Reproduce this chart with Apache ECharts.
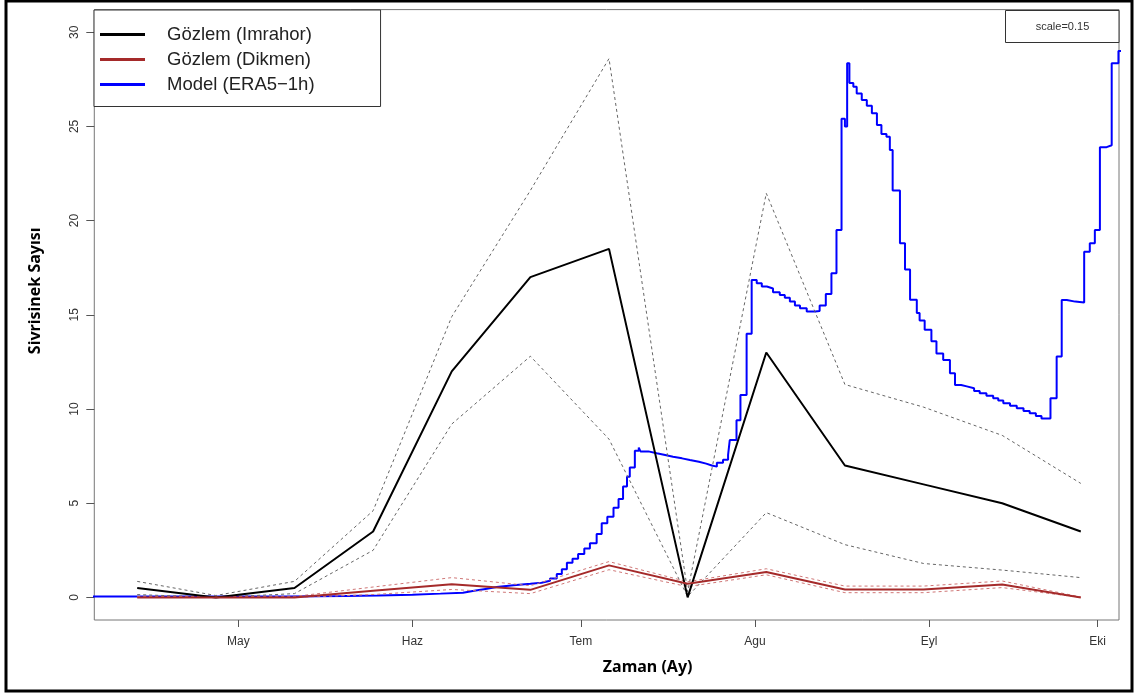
<!DOCTYPE html>
<html>
<head>
<meta charset="utf-8">
<script src="https://cdn.jsdelivr.net/npm/echarts@6/dist/echarts.min.js"></script>
<style>
html,body{margin:0;padding:0;background:#fff;}
#c{width:1134px;height:695px;}
</style>
</head>
<body>
<div id="c"></div>
<script>
// ---- data (x = day of year) ----
const tickDays = [121, 152, 182, 213, 244, 274];
const tickLabels = ['May', 'Haz', 'Tem', 'Agu', 'Eyl', 'Eki'];
const yTicks = [0, 5, 10, 15, 20, 25, 30];

const obsDays = [103, 117, 131, 145, 159, 173, 187, 201, 215, 229, 243, 257, 271];
const imrahor   = [0.5, 0, 0.5, 3.5, 12, 17, 18.5, 0, 13, 7, 6, 5, 3.5];
const imrahorHi = [0.85, 0.1, 0.85, 4.6, 14.9, 21.6, 28.6, 0.3, 21.45, 11.3, 10.1, 8.6, 6.05];
const imrahorLo = [0.15, 0, 0.2, 2.5, 9.2, 12.8, 8.4, 0.05, 4.5, 2.8, 1.8, 1.45, 1.05];
const dikmen    = [0, 0, 0, 0.35, 0.7, 0.4, 1.7, 0.72, 1.35, 0.42, 0.42, 0.68, 0];
const dikmenHi  = [0.05, 0.05, 0.05, 0.55, 1.05, 0.62, 1.9, 0.83, 1.52, 0.6, 0.6, 0.87, 0.02];
const dikmenLo  = [0, 0, 0, 0.15, 0.42, 0.2, 1.47, 0.57, 1.2, 0.25, 0.25, 0.52, 0];

const modelDays = [94,130,140,146,152,157,161,163,165,167,170,173,175,176.5,177.7,178.6,179.5,180.5,181.5,182.6,183.6,184.8,185.7,186.7,187.8,188.7,189.5,190.2,190.7,191.6,192.3,192.6,194,195.5,197,198.4,200,201.4,203,204.3,205.3,206.2,207.3,208.2,208.5,209.7,210.4,211.5,212.4,213.3,214.2,215.1,216.2,217.4,218.3,219.2,220.1,221.0,222.2,223.7,224.5,225.6,226.6,227.5,228.4,229.0,229.4,229.8,230.5,231.1,232.0,232.9,233.8,234.7,235.5,236.4,237.0,237.5,238.8,239.7,240.6,241.8,242.3,243.2,244.4,245.3,246.5,247.7,248.6,249.7,250.7,252,253.0,254.2,255.4,256.3,257.2,258.4,259.6,260.8,261.9,263,264.0,265.6,266.7,267.6,268.5,270,271.6,272.6,273.5,274.4,275.6,276.5,277.7,278.5];
const modelVals = [0.05,0.07,0.1,0.14,0.2,0.25,0.35,0.45,0.55,0.65,0.72,0.78,0.88,1.0,1.24,1.5,1.84,2.05,2.3,2.6,2.87,3.36,3.93,4.28,4.76,5.22,5.88,6.4,6.9,7.79,7.95,7.75,7.65,7.56,7.47,7.38,7.29,7.2,7.1,7.0,6.94,7.15,7.3,7.56,8.35,9.4,10.74,14.0,16.85,16.67,16.5,16.4,16.2,16.05,15.9,15.7,15.5,15.35,15.17,15.2,15.5,16.1,17.2,19.5,25.4,25.0,28.35,27.3,27.1,26.75,26.4,26.1,25.7,25.07,24.6,24.45,23.75,21.6,18.8,17.4,15.8,15.1,14.7,14.2,13.6,12.95,12.6,11.9,11.27,11.2,11.1,10.95,10.83,10.7,10.57,10.45,10.3,10.17,10.04,9.9,9.77,9.63,9.5,10.57,12.78,15.79,15.7,15.65,18.35,18.8,19.5,23.9,24.0,28.35,29.0,29.0];

const zip = (xs, ys) => xs.map((x, i) => [x, ys[i]]);

const chart = echarts.init(document.getElementById('c'), null, {renderer: 'canvas'});
const FONT = 'Liberation Sans';

chart.setOption({
  animation: false,
  backgroundColor: '#fff',
  grid: {left: 94.3, right: 15, top: 9.6, bottom: 75, show: true, borderColor: '#777', borderWidth: 1, backgroundColor: 'transparent'},
  xAxis: {
    type: 'value', min: 95.36, max: 277.8,
    axisLine: {show: false, onZero: false},
    splitLine: {show: false},
    axisTick: {show: true, length: 7, lineStyle: {color: '#555'}, customValues: tickDays},
    axisLabel: {customValues: tickDays, margin: 16, fontFamily: FONT, fontSize: 12, color: '#333',
      formatter: v => tickLabels[tickDays.indexOf(v)] || ''},
    name: 'Zaman (Ay)', nameLocation: 'middle', nameGap: 39,
    nameTextStyle: {fontFamily: 'Noto Sans', fontWeight: 'bold', fontSize: 16, color: '#000', padding: [0, 0, 0, 82]}
  },
  yAxis: {
    type: 'value', min: -1.2, max: 31.2,
    axisLine: {show: false, onZero: false},
    splitLine: {show: false},
    axisTick: {show: true, length: 8, lineStyle: {color: '#555'}, customValues: yTicks},
    axisLabel: {customValues: yTicks, rotate: 90, margin: 14, fontFamily: FONT, fontSize: 12, color: '#333'},
    name: 'Sivrisinek Sayısı', nameLocation: 'middle', nameRotate: 90, nameGap: 51,
    nameTextStyle: {fontFamily: 'Noto Sans', fontWeight: 'bold', fontSize: 16, color: '#000', padding: [0, 0, 0, 48]}
  },
  legend: {
    data: ['Gözlem (Imrahor)', 'Gözlem (Dikmen)', 'Model (ERA5−1h)'],
    orient: 'vertical', left: 94, top: 10,
    padding: [14.5, 66, 12, 6],
    itemWidth: 45, itemHeight: 3, icon: 'rect', itemGap: 5,
    backgroundColor: '#fff', borderColor: '#333', borderWidth: 1, borderRadius: 0,
    textStyle: {fontFamily: FONT, fontSize: 18.5, color: '#222', lineHeight: 20, padding: [0, 0, 0, 17]}
  },
  graphic: [
    {type: 'rect', shape: {x: 6, y: 1, width: 1126, height: 690}, style: {fill: 'none', stroke: '#000', lineWidth: 3}, z: 100},
    {type: 'rect', shape: {x: 1005.5, y: 10.5, width: 113.5, height: 32}, style: {fill: '#fff', stroke: '#333', lineWidth: 1}, z: 50},
    {type: 'text', x: 1062.5, y: 26.5, style: {text: 'scale=0.15', fontFamily: FONT, fontSize: 11, fill: '#333', align: 'center', verticalAlign: 'middle'}, z: 51}
  ],
  series: [
    {name: 'Model (ERA5−1h)', type: 'line', step: 'end', data: zip(modelDays, modelVals), showSymbol: false, lineStyle: {color: '#0000FF', width: 2}, itemStyle: {color: '#0000FF'}, clip: true, z: 2},
    {name: 'Imrahor üst', type: 'line', data: zip(obsDays, imrahorHi), showSymbol: false, lineStyle: {color: '#666', width: 1, type: [3, 3]}, z: 3},
    {name: 'Imrahor alt', type: 'line', data: zip(obsDays, imrahorLo), showSymbol: false, lineStyle: {color: '#666', width: 1, type: [3, 3]}, z: 3},
    {name: 'Dikmen üst', type: 'line', data: zip(obsDays, dikmenHi), showSymbol: false, lineStyle: {color: '#d07878', width: 1, type: [3, 3]}, z: 3},
    {name: 'Dikmen alt', type: 'line', data: zip(obsDays, dikmenLo), showSymbol: false, lineStyle: {color: '#d07878', width: 1, type: [3, 3]}, z: 3},
    {name: 'Gözlem (Imrahor)', type: 'line', data: zip(obsDays, imrahor), showSymbol: false, lineStyle: {color: '#000', width: 2}, itemStyle: {color: '#000'}, z: 4},
    {name: 'Gözlem (Dikmen)', type: 'line', data: zip(obsDays, dikmen), showSymbol: false, lineStyle: {color: '#A52A2A', width: 2}, itemStyle: {color: '#A52A2A'}, z: 4}
  ]
});
</script>
</body>
</html>
